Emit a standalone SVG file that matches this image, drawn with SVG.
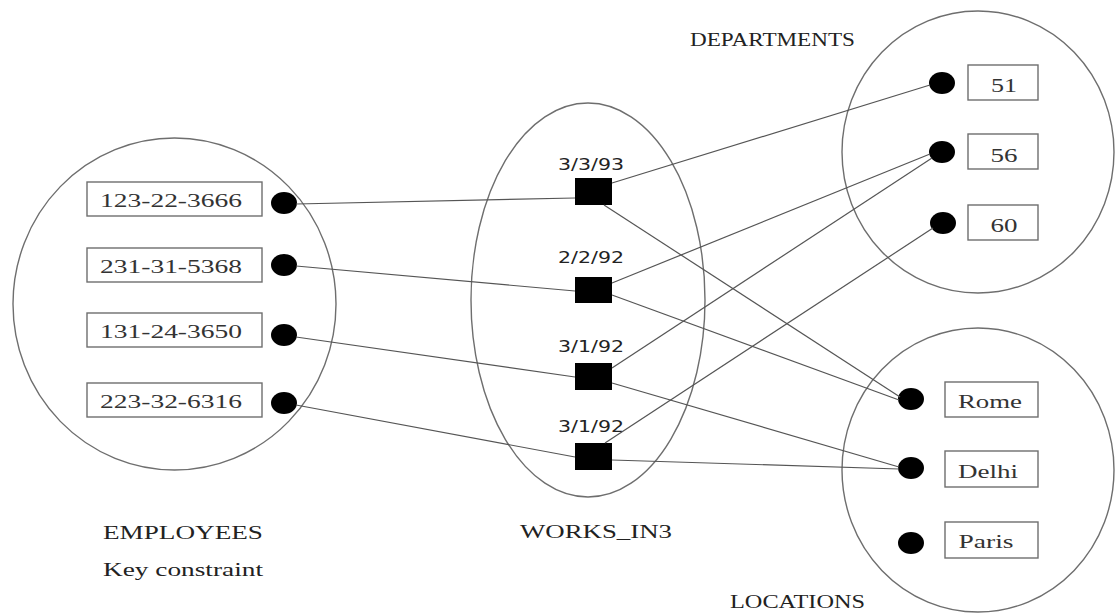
<svg xmlns="http://www.w3.org/2000/svg" width="1115" height="616" viewBox="0 0 1115 616">
  <style>
    .set { fill: none; stroke: #6e6e6e; stroke-width: 1.4; }
    .box { fill: #fff; stroke: #6e6e6e; stroke-width: 1.4; }
    .dot { fill: #000; }
    .rel { fill: #000; }
    .lbl { font-family: 'Liberation Serif', 'DejaVu Serif', 'Times New Roman', serif; font-size: 19px; fill: #222; }
    .val { font-family: 'Liberation Serif', 'DejaVu Serif', 'Times New Roman', serif; font-size: 19px; fill: #333; text-anchor: middle; }
    .date { font-family: 'DejaVu Sans', 'Liberation Sans', sans-serif; font-size: 15px; fill: #222; text-anchor: middle; }
    #connectors line { stroke: #555; stroke-width: 1.2; }
  </style>

  <rect width="1115" height="616" fill="#fff"/>

  <!-- entity sets and relationship set -->
  <g id="employees">
    <ellipse class="set" cx="174.5" cy="304" rx="161.5" ry="166"/>
    <rect class="box" x="87" y="182" width="175" height="34"/>
    <text class="val" x="171" y="207" textLength="142" lengthAdjust="spacingAndGlyphs">123-22-3666</text>
    <rect class="box" x="87" y="248" width="175" height="34"/>
    <text class="val" x="171" y="273" textLength="142" lengthAdjust="spacingAndGlyphs">231-31-5368</text>
    <rect class="box" x="87" y="313" width="175" height="34"/>
    <text class="val" x="171" y="338" textLength="142" lengthAdjust="spacingAndGlyphs">131-24-3650</text>
    <rect class="box" x="87" y="383" width="175" height="34"/>
    <text class="val" x="171" y="408" textLength="142" lengthAdjust="spacingAndGlyphs">223-32-6316</text>
    <ellipse class="dot" cx="284" cy="203" rx="13" ry="11"/>
    <ellipse class="dot" cx="284" cy="265" rx="13" ry="11"/>
    <ellipse class="dot" cx="284" cy="335" rx="13" ry="11"/>
    <ellipse class="dot" cx="284" cy="403" rx="13" ry="11"/>
    <text class="lbl" x="103" y="539" textLength="160" lengthAdjust="spacingAndGlyphs">EMPLOYEES</text>
    <text class="lbl" x="103" y="576" textLength="160" lengthAdjust="spacingAndGlyphs">Key constraint</text>
  </g>

  <g id="works_in3">
    <ellipse class="set" cx="588" cy="300" rx="117" ry="197"/>
    <text class="date" x="591" y="170" textLength="66" lengthAdjust="spacingAndGlyphs">3/3/93</text>
    <rect class="rel" x="575" y="178" width="37" height="27"/>
    <text class="date" x="591" y="263" textLength="66" lengthAdjust="spacingAndGlyphs">2/2/92</text>
    <rect class="rel" x="575" y="277" width="37" height="26"/>
    <text class="date" x="591" y="352" textLength="66" lengthAdjust="spacingAndGlyphs">3/1/92</text>
    <rect class="rel" x="575" y="363" width="37" height="27"/>
    <text class="date" x="591" y="432" textLength="66" lengthAdjust="spacingAndGlyphs">3/1/92</text>
    <rect class="rel" x="575" y="443" width="37" height="27"/>
    <text class="lbl" x="520" y="538" textLength="152" lengthAdjust="spacingAndGlyphs">WORKS_IN3</text>
  </g>

  <g id="departments">
    <ellipse class="set" cx="978" cy="152" rx="136" ry="141"/>
    <rect class="box" x="968" y="65" width="70" height="35"/>
    <text class="val" x="1004" y="92" textLength="26" lengthAdjust="spacingAndGlyphs">51</text>
    <rect class="box" x="968" y="134" width="70" height="35"/>
    <text class="val" x="1004" y="162" textLength="27" lengthAdjust="spacingAndGlyphs">56</text>
    <rect class="box" x="968" y="205" width="70" height="35"/>
    <text class="val" x="1004" y="232" textLength="27" lengthAdjust="spacingAndGlyphs">60</text>
    <ellipse class="dot" cx="942" cy="83" rx="13" ry="11"/>
    <ellipse class="dot" cx="942" cy="152" rx="13" ry="11"/>
    <ellipse class="dot" cx="943" cy="223" rx="13" ry="11"/>
    <text class="lbl" x="690" y="46" textLength="165" lengthAdjust="spacingAndGlyphs">DEPARTMENTS</text>
  </g>

  <g id="locations">
    <ellipse class="set" cx="978" cy="470" rx="136" ry="142"/>
    <rect class="box" x="945" y="382" width="93" height="35"/>
    <text class="val" x="990" y="408" textLength="64" lengthAdjust="spacingAndGlyphs">Rome</text>
    <rect class="box" x="945" y="451" width="93" height="36"/>
    <text class="val" x="988" y="478" textLength="60" lengthAdjust="spacingAndGlyphs">Delhi</text>
    <rect class="box" x="945" y="522" width="93" height="36"/>
    <text class="val" x="986" y="548" textLength="55" lengthAdjust="spacingAndGlyphs">Paris</text>
    <ellipse class="dot" cx="911" cy="399" rx="13" ry="11"/>
    <ellipse class="dot" cx="911" cy="468" rx="13" ry="11"/>
    <ellipse class="dot" cx="911" cy="543" rx="13" ry="11"/>
    <text class="lbl" x="730" y="608" textLength="135" lengthAdjust="spacingAndGlyphs">LOCATIONS</text>
  </g>

  <g id="connectors">
    <!-- employees to relationship instances -->
    <line x1="296" y1="204" x2="575" y2="198"/>
    <line x1="296" y1="266" x2="575" y2="291"/>
    <line x1="296" y1="337" x2="575" y2="377"/>
    <line x1="296" y1="405" x2="575" y2="457"/>
    <!-- relationship instances to departments -->
    <line x1="612" y1="183" x2="930" y2="85"/>
    <line x1="612" y1="283" x2="930" y2="154"/>
    <line x1="612" y1="368" x2="932" y2="158"/>
    <line x1="605" y1="443" x2="933" y2="228"/>
    <!-- relationship instances to locations -->
    <line x1="604" y1="205" x2="900" y2="397"/>
    <line x1="612" y1="295" x2="899" y2="400"/>
    <line x1="612" y1="383" x2="899" y2="467"/>
    <line x1="612" y1="460" x2="899" y2="469"/>
  </g>
</svg>
